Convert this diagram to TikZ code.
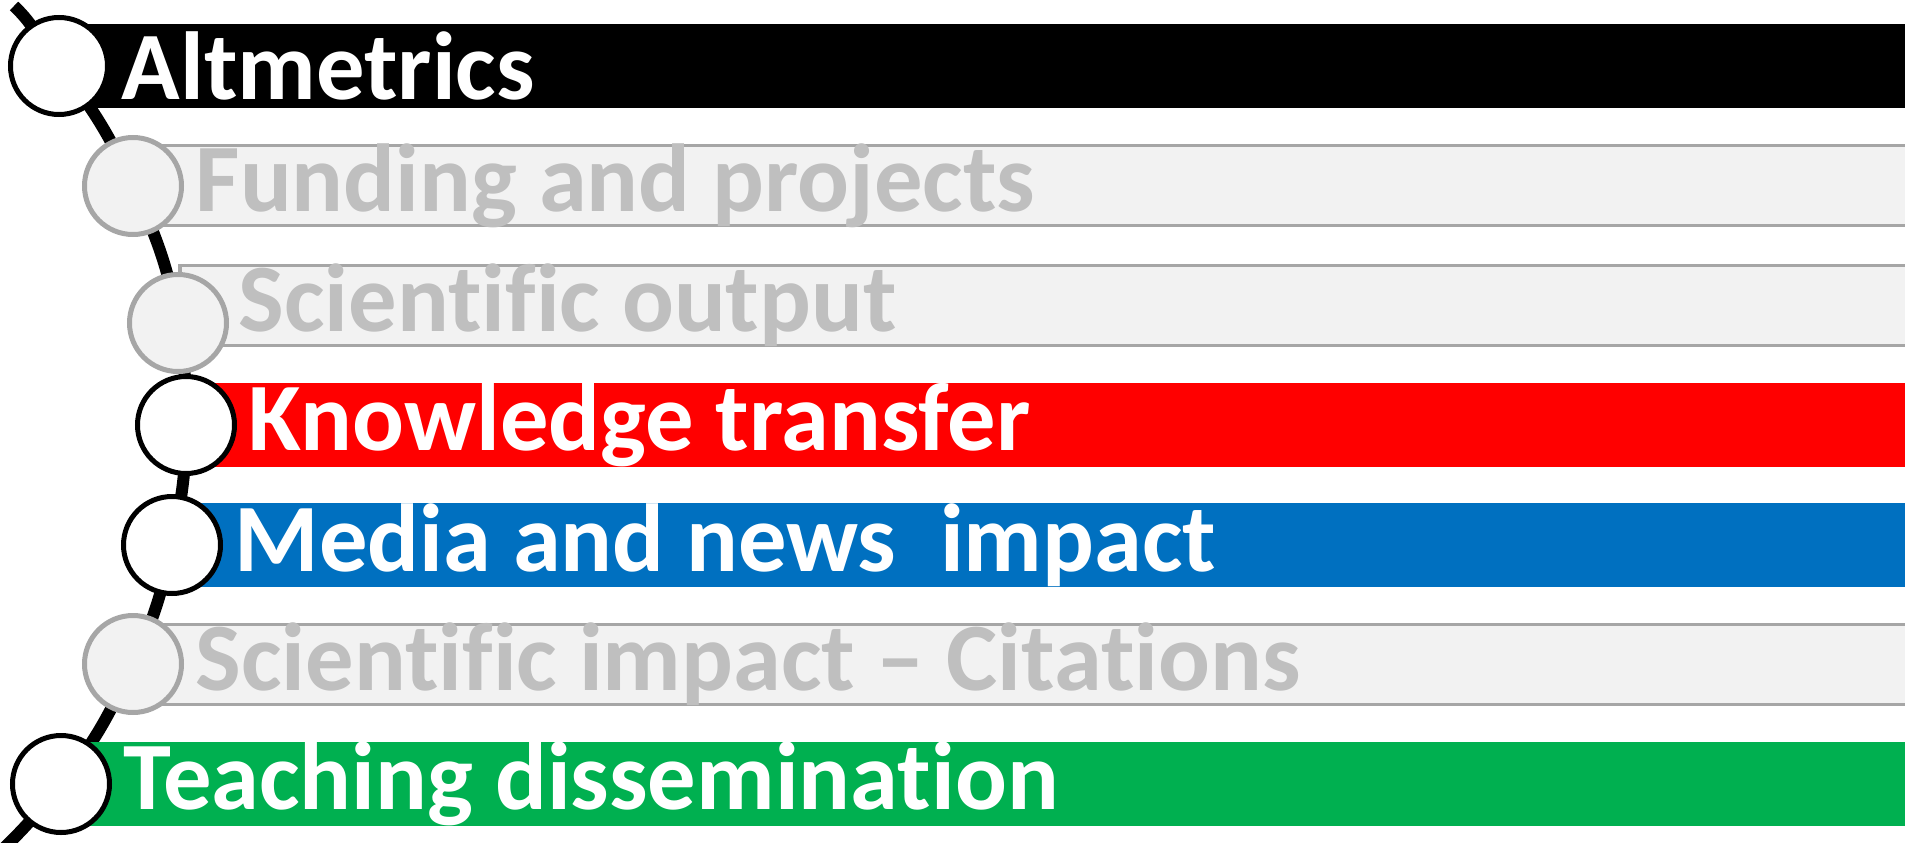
\documentclass[tikz,border=0pt]{standalone}
\usepackage{fontspec}
\setmainfont{Carlito}[Ligatures={NoCommon,NoContextual}]
\usetikzlibrary{positioning, backgrounds}
\definecolor{barred}{HTML}{FF0000}
\definecolor{barblue}{HTML}{0070C0}
\definecolor{bargreen}{HTML}{00B050}
\definecolor{greyfill}{HTML}{F2F2F2}
\definecolor{greyline}{HTML}{A6A6A6}
\definecolor{greytext}{HTML}{BFBFBF}

\begin{document}
\begin{tikzpicture}[every node/.style={font=\fontsize{27.5}{30}\selectfont\bfseries}]
\tikzstyle{bar}=[rectangle, anchor=west, minimum height=0.84cm, minimum width=19cm, inner sep=0pt]
\tikzstyle{barg}=[bar, fill=greyfill, draw=greyline, line width=0.035cm, minimum height=0.8cm]
\tikzstyle{dot}=[circle, minimum size=0.97cm, inner sep=0pt, draw=black, fill=white, line width=0.05cm]
\tikzstyle{dotg}=[dot, draw=greyline, fill=greyfill]
\tikzstyle{lbl}=[anchor=west, inner sep=0pt, text=white]
\tikzstyle{lblg}=[lbl, text=greytext]
\tikzstyle{spine}=[draw=black, line width=0.12cm]

\useasboundingbox (0,0) rectangle (19.05,8.42);

% bars
\node[bar, fill=black](b1) at (0.59,7.76){};
\node[barg](b2) at (1.33,6.563){};
\node[barg](b3) at (1.78,5.366){};
\node[bar, fill=barred](b4) at (1.86,4.169){};
\node[bar, fill=barblue](b5) at (1.72,2.972){};
\node[barg](b6) at (1.33,1.775){};
\node[bar, fill=bargreen](b7) at (0.61,0.578){};

% circles
\node[dot](c1) at (0.59,7.76){};
\node[dotg](c2) at (1.33,6.56){};
\node[dotg](c3) at (1.78,5.19){};
\node[dot](c4) at (1.86,4.17){};
\node[dot](c5) at (1.72,2.97){};
\node[dotg](c6) at (1.33,1.78){};
\node[dot](c7) at (0.61,0.58){};

% labels
\node[lbl](l1) at ([xshift=0.62cm]b1.west){Altmetrics};
\node[lblg](l2) at ([xshift=0.62cm]b2.west){Funding and projects};
\node[lblg](l3) at ([xshift=0.6cm]b3.west){Scientific output};
\node[lbl](l4) at ([xshift=0.62cm]b4.west){Knowledge transfer};
\node[lbl](l5) at ([xshift=0.62cm]b5.west){Media and news\ \ impact};
\node[lblg](l6) at ([xshift=0.62cm]b6.west){Scientific impact – Citations};
\node[lbl](l7) at ([xshift=0.62cm]b7.west){Teaching dissemination};

% spine behind everything
\coordinate (t) at (0.14,8.36);
\coordinate (b) at (0.04,-0.06);
\begin{scope}[on background layer]
\clip (0,0) rectangle (19.05,8.42);
\draw[spine](t) to[out=-43,in=129] (c1.center) to[out=-51,in=115] (c2.center)
  to[out=-65,in=100] (c3.center) to[out=-80,in=90] (c4.center)
  to[out=-90,in=78] (c5.center) to[out=-102,in=65] (c6.center)
  to[out=-115,in=51] (c7.center) to[out=-129,in=44] (b);
\end{scope}
\end{tikzpicture}
\end{document}
